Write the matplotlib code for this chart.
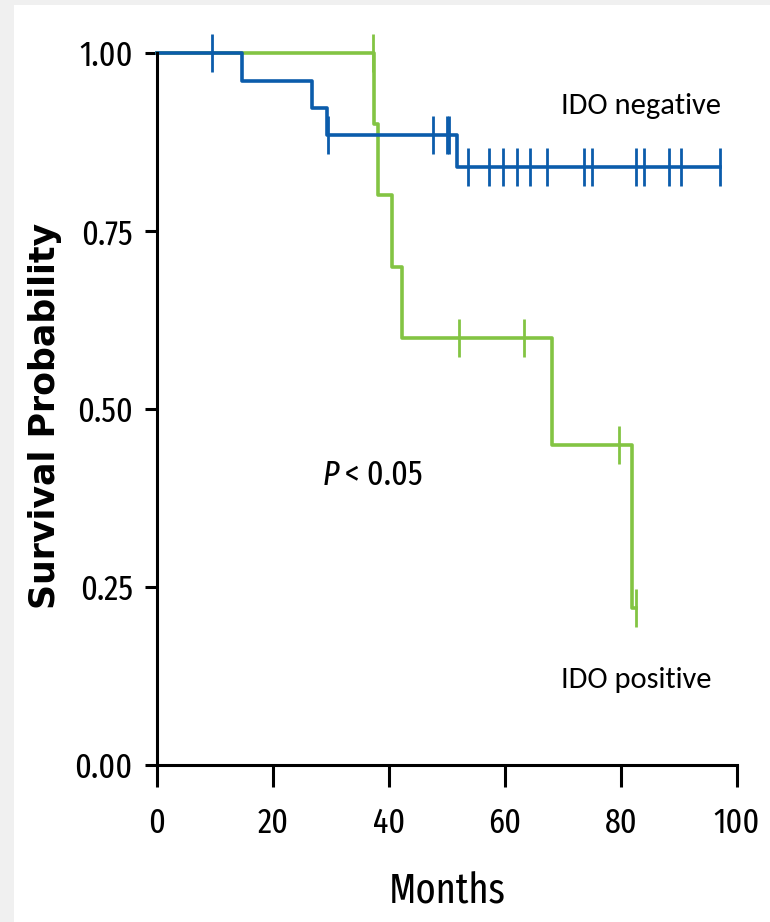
import numpy as np
import matplotlib.pyplot as plt
from matplotlib.patches import Rectangle

# IDO negative (blue)
neg_time = [0, 14.7, 26.7, 29.3, 51.7, 97.1]
neg_surv = [1.0, 0.961, 0.923, 0.885, 0.840, 0.840]
neg_cens = [9.5, 29.5, 47.6, 50.0, 50.3, 53.6, 57.2, 59.6, 62.0, 64.3, 67.2,
            73.6, 75.0, 82.6, 84.0, 88.3, 90.3, 97.1]

# IDO positive (green)
pos_time = [0, 37.4, 38.1, 40.5, 42.2, 68.1, 81.9, 82.6]
pos_surv = [1.0, 0.90, 0.80, 0.70, 0.60, 0.45, 0.22, 0.22]
pos_cens = [37.3, 52.1, 63.3, 79.7, 82.6]

x_ticks = [0, 20, 40, 60, 80, 100]
y_ticks = [0.0, 0.25, 0.5, 0.75, 1.0]

blue = '#0b5cab'
green = '#83c443'
narrow = ['Fira Sans Extra Condensed', 'PT Sans Narrow', 'Roboto Condensed',
          'Liberation Sans Narrow', 'DejaVu Sans']
calibri = ['Carlito', 'Lato', 'DejaVu Sans']


def surv_at(times, surv, t):
    i = np.searchsorted(times, t, side='right') - 1
    return np.array(surv)[i]


fig = plt.figure(figsize=(7.7, 9.22), dpi=100, facecolor='#f0f0f0')
fig.patches.append(Rectangle((14 / 770, 0), 1, 917 / 922, transform=fig.transFigure,
                             facecolor='white', edgecolor='none', zorder=-10))
ax = fig.add_axes([157 / 770, 157 / 922, 580 / 770, 712 / 922])
ax.set_facecolor('none')

# green first, blue on top
ax.step(pos_time, pos_surv, where='post', color=green, lw=2.6, clip_on=False)
ax.plot(pos_cens, surv_at(pos_time, pos_surv, pos_cens), ls='none', marker='|',
        ms=27, mew=2.0, color=green, clip_on=False)

ax.step(neg_time, neg_surv, where='post', color=blue, lw=2.6, clip_on=False)
ax.plot(neg_cens, surv_at(neg_time, neg_surv, neg_cens), ls='none', marker='|',
        ms=27, mew=2.0, color=blue, clip_on=False)

ax.set_xlim(0, 100)
ax.set_ylim(0, 1)
ax.set_xticks(x_ticks)
ax.set_yticks(y_ticks)
ax.set_yticklabels(['%.2f' % v for v in y_ticks])
for s in ['top', 'right']:
    ax.spines[s].set_visible(False)
for s in ['left', 'bottom']:
    ax.spines[s].set_linewidth(2.2)
ax.tick_params(axis='x', length=16, width=2.2, pad=14)
ax.tick_params(axis='y', length=8.5, width=2.2, pad=9)
for lab in ax.get_xticklabels() + ax.get_yticklabels():
    lab.set_family(narrow)
    lab.set_fontsize(25)

ax.set_xlabel('Months', family=narrow, fontsize=30, labelpad=22)
ax.set_ylabel('Survival Probability', family='DejaVu Sans',
              fontweight='bold', fontsize=25)
ax.yaxis.set_label_coords(-0.164, 0.49)

ax.text(28.6, 0.393, 'P', family=narrow, fontsize=25, style='italic')
ax.text(32.4, 0.393, '< 0.05', family=narrow, fontsize=25)
ax.text(69.7, 0.925, 'IDO negative', family=calibri, fontsize=22, va='center')
ax.text(69.7, 0.12, 'IDO positive', family=calibri, fontsize=22, va='center')

fig.savefig('out.png', dpi=100, facecolor=fig.get_facecolor())
